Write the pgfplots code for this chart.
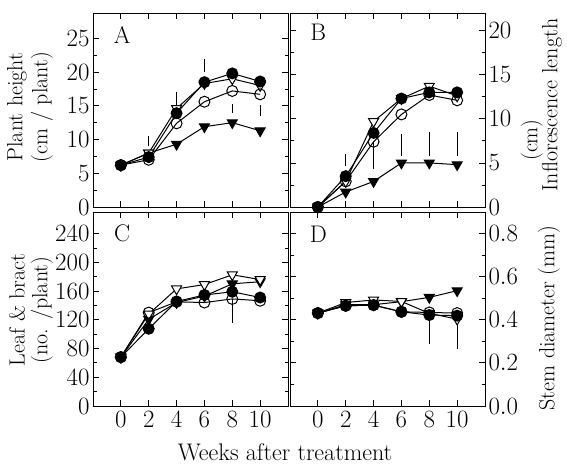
\documentclass[border=0pt]{standalone}
\usepackage{pgfplots}
\pgfplotsset{compat=1.18}
\begin{document}
\begin{tikzpicture}[font=\fontsize{24}{28}\selectfont]
\useasboundingbox (0pt,0pt) rectangle (567pt,-467pt);
\pgfplotsset{
  panel/.style={
    scale only axis, width=195pt, height=194pt,
    xmin=-2, xmax=12, xtick={0,2,...,10},
    minor y tick num=1,
    major tick length=6pt, minor tick length=3.5pt,
    axis line style={line width=1pt}, every tick/.style={black, line width=0.8pt},
    tick label style={font=\fontsize{24}{28}\selectfont},
    xticklabel style={yshift=-2pt},
  },
  fc/.style={black, line width=1pt, mark=*, mark size=5.5pt},
  oc/.style={black, line width=1pt, mark=o, mark size=5.5pt, mark options={fill=white}},
  ot/.style={black, line width=1pt, mark=triangle*, mark size=5.8pt, mark options={rotate=180, fill=white, draw=black}},
  ft/.style={black, line width=1pt, mark=triangle*, mark size=5.8pt, mark options={rotate=180}},
  eb/.style={black, line width=0.8pt, unbounded coords=jump, forget plot},
}

% A: plant height
\begin{axis}[panel, at={(93pt,-13pt)}, anchor=north west,
  ymin=0, ymax=28.75, ytick={0,5,...,25}, xticklabels={}]
\addplot[eb] coordinates {(2,9.0) (2,10.5) (2,nan) (4,14.7) (4,17.0) (4,nan) (6,20.0) (6,22.0) (6,nan) (8,13.9) (8,15.3) (8,nan) (10,13.5) (10,15.1)};
\addplot[ft] coordinates {(0,6.2) (2,8.0) (4,9.3) (6,11.9) (8,12.5) (10,11.3)};
\addplot[ot] coordinates {(0,6.2) (2,8.0) (4,14.6) (6,18.3) (8,19.0) (10,18.0)};
\addplot[oc] coordinates {(0,6.2) (2,7.0) (4,12.4) (6,15.6) (8,17.2) (10,16.7)};
\addplot[fc] coordinates {(0,6.2) (2,7.4) (4,13.9) (6,18.5) (8,19.8) (10,18.6)};
\node[anchor=center] at (rel axis cs:0.15,0.887) {A};
\end{axis}

% B: inflorescence length
\begin{axis}[panel, at={(290pt,-13pt)}, anchor=north west,
  ymin=0, ymax=22, ytick={0,5,...,20}, yticklabel pos=right, xticklabels={}]
\addplot[eb] coordinates {(2,4.7) (2,6.0) (2,nan) (4,4.3) (4,7.4) (4,nan) (6,5.8) (6,8.3) (6,nan) (8,5.8) (8,8.5) (8,nan) (10,5.8) (10,8.5)};
\addplot[ft] coordinates {(0,0) (2,1.7) (4,2.9) (6,5.0) (8,5.0) (10,4.8)};
\addplot[ot] coordinates {(0,0) (2,2.9) (4,9.7) (6,12.3) (8,13.7) (10,12.6)};
\addplot[oc] coordinates {(0,0) (2,2.9) (4,7.4) (6,10.5) (8,12.7) (10,12.1)};
\addplot[fc] coordinates {(0,0) (2,3.5) (4,8.4) (6,12.3) (8,13.0) (10,13.0)};
\node[anchor=center] at (rel axis cs:0.145,0.9) {B};
\end{axis}

% C: leaf & bract
\begin{axis}[panel, at={(93pt,-212pt)}, anchor=north west,
  ymin=0, ymax=270, ytick={0,40,...,240}]
\addplot[eb] coordinates {(8,116) (8,149)};
\addplot[ft] coordinates {(0,68) (2,120.6) (4,144) (6,153) (8,170) (10,173)};
\addplot[ot] coordinates {(0,68) (2,128) (4,163) (6,169) (8,182.6) (10,176)};
\addplot[oc] coordinates {(0,68) (2,130) (4,145) (6,144) (8,149) (10,146.5)};
\addplot[fc] coordinates {(0,68) (2,107.5) (4,145.5) (6,154.5) (8,159) (10,151)};
\node[anchor=center] at (rel axis cs:0.15,0.89) {C};
\end{axis}

% D: stem diameter
\begin{axis}[panel, at={(290pt,-212pt)}, anchor=north west,
  ymin=0, ymax=0.9, ytick={0,0.2,...,0.8}, yticklabel pos=right,
  yticklabel style={/pgf/number format/.cd, fixed, fixed zerofill, precision=1}]
\addplot[eb] coordinates {(8,0.287) (8,0.403) (8,nan) (10,0.264) (10,0.387)};
\addplot[ft] coordinates {(0,0.431) (2,0.47) (4,0.47) (6,0.484) (8,0.504) (10,0.535)};
\addplot[ot] coordinates {(0,0.431) (2,0.48) (4,0.492) (6,0.485) (8,0.43) (10,0.403)};
\addplot[oc] coordinates {(0,0.431) (2,0.465) (4,0.468) (6,0.437) (8,0.434) (10,0.431)};
\addplot[fc] coordinates {(0,0.431) (2,0.465) (4,0.468) (6,0.437) (8,0.422) (10,0.419)};
\node[anchor=center] at (rel axis cs:0.145,0.885) {D};
\end{axis}

% axis titles
\begin{scope}[font=\fontsize{22}{26}\selectfont]
\node[rotate=90] at (17pt,-107pt) {Plant height};
\node[rotate=90] at (42pt,-107pt) {(cm / plant)};
\node[rotate=90] at (17pt,-310pt) {Leaf \& bract};
\node[rotate=90] at (42pt,-310pt) {(no. /plant)};
\node[rotate=90] at (552pt,-105pt) {Inflorescence length};
\node[rotate=90] at (532pt,-140pt) {(cm)};
\node[rotate=90] at (549pt,-318pt) {Stem diameter (mm)};
\end{scope}
\node at (285pt,-452pt) {Weeks after treatment};
\end{tikzpicture}
\end{document}
